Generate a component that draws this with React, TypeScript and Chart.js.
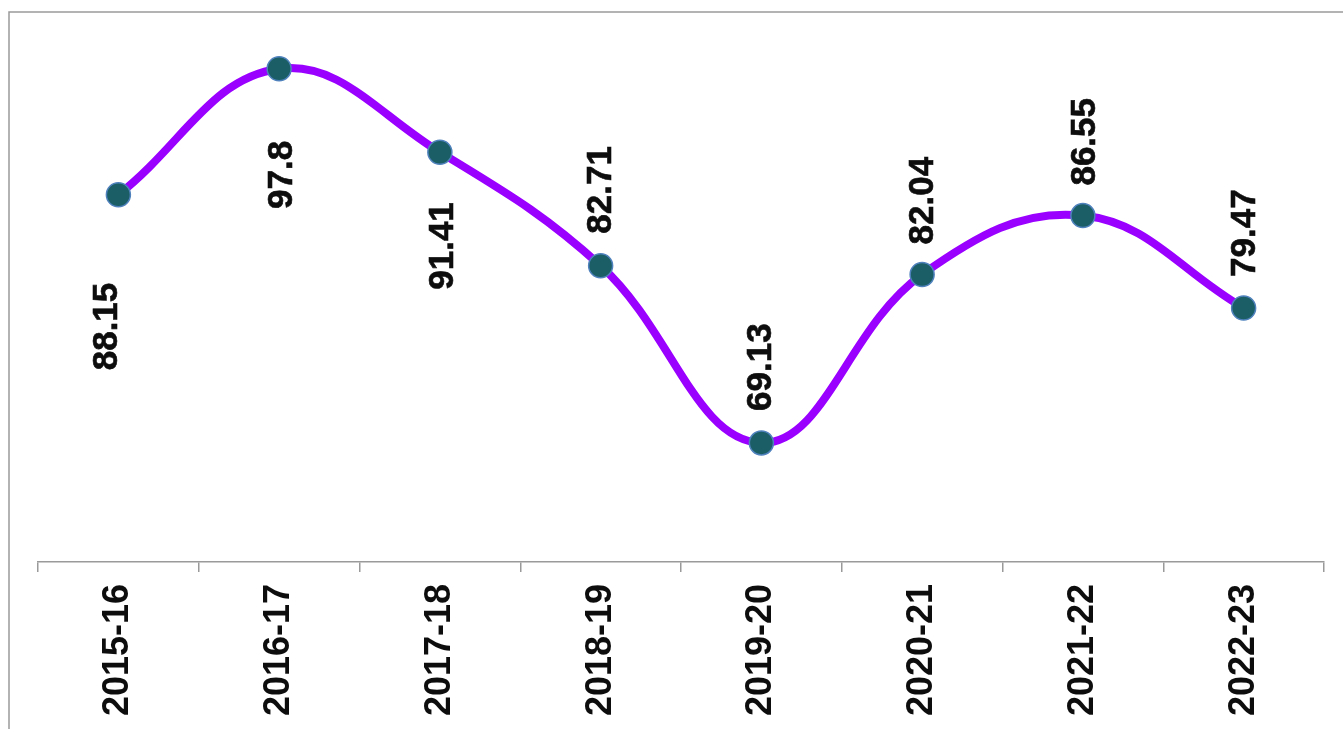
import React, { useEffect, useRef } from "react";
import { Chart, registerables } from "chart.js";

Chart.register(...registerables);

const categories = ["2015-16", "2016-17", "2017-18", "2018-19", "2019-20", "2020-21", "2021-22", "2022-23"];
const values = [88.15, 97.8, 91.41, 82.71, 69.13, 82.04, 86.55, 79.47];
const labelSide = ["below", "below", "below", "above", "above", "above", "above", "above"];
const labelGap = [88, 72, 50, 32, 32, 30, 30, 31];
const labelShiftX = [-11, 3, 3, 1, 0, 1, 2, 2];

const FONT_FAMILY = "'Liberation Sans', Arial, sans-serif";

const framePlugin = {
  id: "frame",
  beforeDraw(chart: any) {
    const ctx = chart.ctx;
    ctx.save();
    ctx.strokeStyle = "#9a9a9a";
    ctx.lineWidth = 1.5;
    ctx.beginPath();
    ctx.moveTo(9, chart.height);
    ctx.lineTo(9, 12);
    ctx.lineTo(chart.width, 12);
    ctx.stroke();
    ctx.restore();
  },
};

const valueLabelPlugin = {
  id: "valueLabels",
  afterDatasetsDraw(chart: any) {
    const ctx = chart.ctx;
    const meta = chart.getDatasetMeta(0);
    ctx.save();
    ctx.fillStyle = "#0d0d0d";
    ctx.strokeStyle = "#0d0d0d";
    ctx.lineWidth = 0.6;
    ctx.font = `bold 35px ${FONT_FAMILY}`;
    ctx.textBaseline = "middle";
    meta.data.forEach((pt: any, i: number) => {
      const below = labelSide[i] === "below";
      const x = pt.x + labelShiftX[i];
      const y = below ? pt.y + labelGap[i] : pt.y - labelGap[i];
      ctx.save();
      ctx.translate(x, y);
      ctx.rotate(-Math.PI / 2);
      ctx.textAlign = below ? "right" : "left";
      ctx.fillText(String(values[i]), 0, 0);
      ctx.strokeText(String(values[i]), 0, 0);
      ctx.restore();
    });
    ctx.restore();
  },
};

export default function App() {
  const canvasRef = useRef<HTMLCanvasElement | null>(null);

  useEffect(() => {
    if (!canvasRef.current) return;
    const chart = new Chart(canvasRef.current, {
      type: "line",
      data: {
        labels: categories,
        datasets: [
          {
            data: values,
            borderColor: "#9900ff",
            borderWidth: 8,
            tension: 0.4,
            pointRadius: 12,
            pointHoverRadius: 12,
            pointBackgroundColor: "#1b5e66",
            pointBorderColor: "#4f82bd",
            pointBorderWidth: 1.5,
            fill: false,
          },
        ],
      },
      options: {
        animation: false,
        responsive: true,
        maintainAspectRatio: false,
        layout: { padding: { top: 14, left: 38, right: 19, bottom: 0 } },
        plugins: {
          legend: { display: false },
          tooltip: { enabled: false },
        },
        scales: {
          x: {
            offset: true,
            grid: {
              offset: true,
              drawOnChartArea: false,
              drawTicks: true,
              tickLength: 10,
              color: "#9a9a9a",
              lineWidth: 1.5,
            },
            border: { display: true, color: "#9a9a9a", width: 1.5 },
            ticks: {
              minRotation: 90,
              maxRotation: 90,
              padding: 12,
              color: "#0d0d0d",
              font: { family: FONT_FAMILY, size: 36, weight: "bold" },
            },
            afterFit(scale: any) {
              scale.height = 167;
            },
          },
          y: {
            display: false,
            min: 60,
            max: 102,
          },
        },
      },
      plugins: [framePlugin, valueLabelPlugin],
    });
    return () => chart.destroy();
  }, []);

  return (
    <div style={{ position: "absolute", left: 0, top: 0, width: 1343, height: 729, background: "#fff" }}>
      <canvas ref={canvasRef} />
    </div>
  );
}
